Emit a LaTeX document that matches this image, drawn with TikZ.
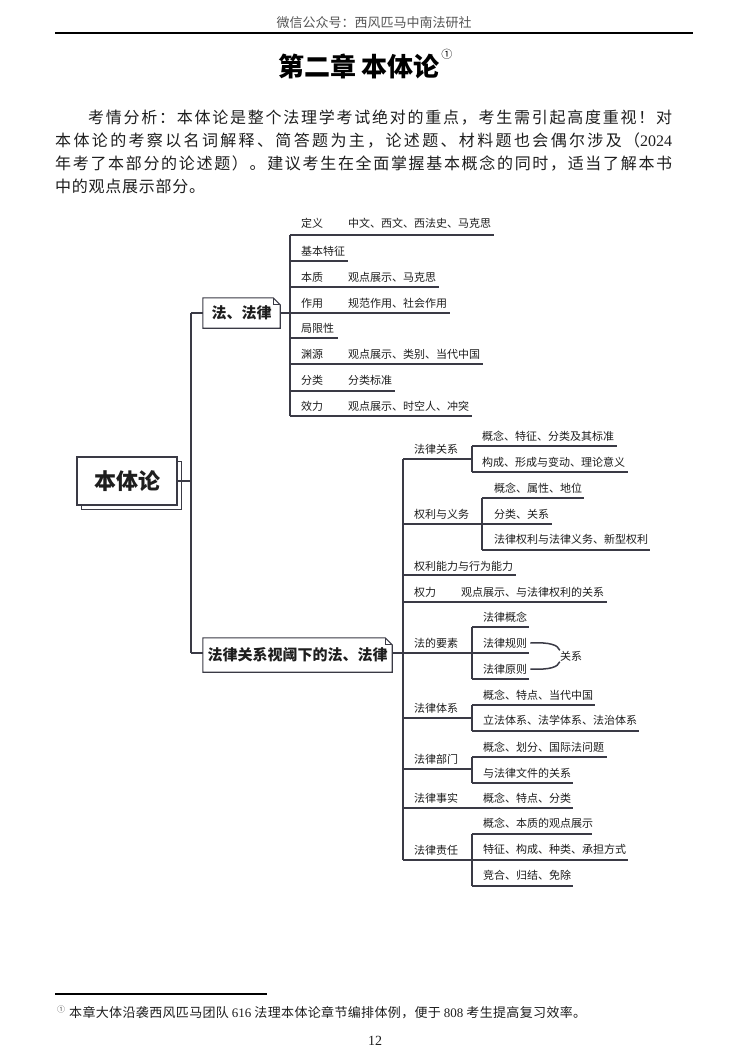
\documentclass[tikz,border=0pt]{standalone}
\usepackage{fontspec}
\setmainfont{Noto Sans CJK SC}
\newfontfamily\lat{Liberation Serif}
\usetikzlibrary{shadows}
% own inter-character class for CJK ideographs and full-width punctuation
\count255="4E00
\loop \XeTeXcharclass\count255=7 \advance\count255 by 1 \ifnum\count255<"A000 \repeat
\count255="3000
\loop \XeTeXcharclass\count255=7 \advance\count255 by 1 \ifnum\count255<"3040 \repeat
\count255="FF00
\loop \XeTeXcharclass\count255=7 \advance\count255 by 1 \ifnum\count255<"FF60 \repeat
\XeTeXinterchartokenstate=1
\XeTeXinterchartoks 7 7 {\hskip 0pt plus 1pt\relax}
\XeTeXinterchartoks 7 0 {\hskip 0pt plus 1pt\relax}
\XeTeXinterchartoks 0 7 {\hskip 0pt plus 1pt\relax}
\definecolor{linec}{HTML}{3A3A45}
\definecolor{txtc}{HTML}{1E1E1E}
\definecolor{headc}{HTML}{555555}
\newcommand\hl[4]{\coordinate (#1s) at (#2,#4); \coordinate (#1e) at (#3,#4); \draw[ln] (#1s) -- (#1e);}
\newcommand\vl[4]{\coordinate (#1s) at (#2,#3); \coordinate (#1e) at (#2,#4); \draw[ln] (#1s) -- (#1e);}
\newcommand\dogear[1]{%
  \draw[ln] (#1.north west) -- ([xshift=-7pt]#1.north east) -- ([yshift=-7pt]#1.north east) -- (#1.south east) -- (#1.south west) -- cycle;
  \draw[ln, line width=0.8pt] ([xshift=-7pt]#1.north east) -- ([xshift=-7pt,yshift=-7pt]#1.north east) -- ([yshift=-7pt]#1.north east);}
\begin{document}
\begin{tikzpicture}[x=1pt, y=-1pt,
  ln/.style={draw=linec, line width=1.1pt},
  lbl/.style={anchor=west, inner sep=0pt, font=\fontsize{11}{13}\selectfont, text=txtc, text height=9.5pt, text depth=1.5pt},
  para/.style={anchor=west, inner sep=0pt, font=\fontsize{16}{18}\selectfont, text=txtc, text height=13.6pt, text depth=2.4pt},
  bignode/.style={inner sep=0pt, font=\fontsize{15}{17}\selectfont\bfseries, text=txtc, text height=13pt, text depth=2pt}
]
\useasboundingbox (0,0) rectangle (748,1059);
\fill[white] (0,0) rectangle (748,1059);

% header
\node[inner sep=0pt, font=\fontsize{13}{15}\selectfont, text=headc] (head) at (374,23) {微信公众号：西风匹马中南法研社};
\coordinate (rl) at (55,33); \coordinate (rr) at (693,33);
\draw[line width=2pt, black] (rl) -- (rr);

% title
\node[inner sep=0pt, font=\fontsize{26}{28}\selectfont\bfseries, text=black] (title) at (359,66) {第二章 本体论};
\node[inner sep=0pt, font=\fontsize{11}{12}\selectfont, text=black, anchor=west] (tsup) at ([xshift=1pt]title.east |- 0,54) {①};

% paragraph
\node[para] (p1) at (88,118) {\makebox[584pt][s]{考情分析：本体论是整个法理学考试绝对的重点，考生需引起高度重视！对}};
\node[para] (p2) at (55,141) {\makebox[617pt][s]{本体论的考察以名词解释、简答题为主，论述题、材料题也会偶尔涉及（{\lat 2024}}};
\node[para] (p3) at (55,164) {\makebox[617pt][s]{年考了本部分的论述题）。建议考生在全面掌握基本概念的同时，适当了解本书}};
\node[para] (p4) at (55,187) {\makebox[150pt][s]{中的观点展示部分。}};

% root
\node[draw=linec, line width=1.1pt, fill=white, minimum width=100pt, minimum height=48pt, inner sep=0pt,
      copy shadow={shadow xshift=4.5pt, shadow yshift=-4.5pt, draw=linec, fill=white, line width=1.1pt},
      font=\fontsize{22}{24}\selectfont\bfseries, text=txtc] (root) at (127,481) {本体论};

% level-1 nodes
\node[bignode, minimum width=77pt, minimum height=30pt] (n1) at (241.5,313) {法、法律};
\dogear{n1}
\node[bignode, minimum width=189pt, minimum height=34pt] (n2) at (297.5,655) {法律关系视阈下的法、法律};
\dogear{n2}

% trunk
\coordinate (ttop) at (191,313);
\coordinate (tbot) at (191,653);
\coordinate (troot) at (191,481);
\draw[ln] (ttop) -- (tbot);
\draw[ln] (root.east) -- (troot);
\draw[ln] (ttop) -- (n1.west |- ttop);
\draw[ln] (tbot) -- (n2.west |- tbot);

% branch 1
\vl{va}{290}{235}{416}
\draw[ln] (n1.east) -- (n1.east -| vas);
\node[lbl] (a1) at (301,224) {定义};
\node[lbl] (a1b) at (348,224) {中文、西文、西法史、马克思};
\hl{ha1}{290}{494}{235}
\node[lbl] (a2) at (301,251) {基本特征};
\hl{ha2}{290}{348}{261}
\node[lbl] (a3) at (301,277) {本质};
\node[lbl] (a3b) at (348,277) {观点展示、马克思};
\hl{ha3}{290}{439}{287}
\node[lbl] (a4) at (301,303) {作用};
\node[lbl] (a4b) at (348,303) {规范作用、社会作用};
\hl{ha4}{290}{450}{313}
\node[lbl] (a5) at (301,328) {局限性};
\hl{ha5}{290}{338}{338}
\node[lbl] (a6) at (301,354) {渊源};
\node[lbl] (a6b) at (348,354) {观点展示、类别、当代中国};
\hl{ha6}{290}{483}{364}
\node[lbl] (a7) at (301,380) {分类};
\node[lbl] (a7b) at (348,380) {分类标准};
\hl{ha7}{290}{395}{391}
\node[lbl] (a8) at (301,406) {效力};
\node[lbl] (a8b) at (348,406) {观点展示、时空人、冲突};
\hl{ha8}{290}{472}{416}

% branch 2
\vl{vb}{403}{459}{860}
\draw[ln] (n2.east |- tbot) -- (vbs |- tbot);

% A
\node[lbl] (b1) at (414,449) {法律关系};
\hl{hb1}{403}{472}{459}
\vl{vb1}{472}{446}{472}
\node[lbl] (b1a) at (482,436) {概念、特征、分类及其标准};
\hl{hb1a}{472}{617}{446}
\node[lbl] (b1b) at (482,462) {构成、形成与变动、理论意义};
\hl{hb1b}{472}{628}{472}
% B
\node[lbl] (b2) at (414,514) {权利与义务};
\hl{hb2}{403}{552}{524}
\vl{vb2}{482}{498}{550}
\node[lbl] (b2a) at (494,488) {概念、属性、地位};
\hl{hb2a}{482}{584}{498}
\node[lbl] (b2b) at (494,514) {分类、关系};
\node[lbl] (b2c) at (494,539) {法律权利与法律义务、新型权利};
\hl{hb2c}{482}{650}{550}
% C
\node[lbl] (b3) at (414,566) {权利能力与行为能力};
\hl{hb3}{403}{516}{575}
% D
\node[lbl] (b4) at (414,592) {权力};
\node[lbl] (b4b) at (461,592) {观点展示、与法律权利的关系};
\hl{hb4}{403}{607}{602}
% E
\node[lbl] (b5) at (414,643) {法的要素};
\hl{hb5}{403}{472}{653}
\vl{vb5}{472}{627}{679}
\node[lbl] (b5a) at (483,617) {法律概念};
\hl{hb5a}{472}{529}{627}
\node[lbl] (b5b) at (483,643) {法律规则};
\hl{hb5b}{472}{529}{653}
\node[lbl] (b5c) at (483,669) {法律原则};
\hl{hb5c}{472}{529}{679}
\node[lbl, anchor=center] (rel) at (571,656) {关系};
\draw[draw=linec, line width=1.5pt] (b5b.east) ++(3,0) .. controls (550,642) and (558,645) .. (rel.north west);
\draw[draw=linec, line width=1.5pt] (b5c.east) ++(3,0) .. controls (550,670) and (558,667) .. (rel.south west);
% F
\node[lbl] (b6) at (414,708) {法律体系};
\hl{hb6}{403}{472}{718}
\vl{vb6}{472}{705}{731}
\node[lbl] (b6a) at (483,695) {概念、特点、当代中国};
\hl{hb6a}{472}{595}{705}
\node[lbl] (b6b) at (483,720) {立法体系、法学体系、法治体系};
\hl{hb6b}{472}{639}{731}
% G
\node[lbl] (b7) at (414,759) {法律部门};
\hl{hb7}{403}{472}{769}
\vl{vb7}{472}{757}{783}
\node[lbl] (b7a) at (483,747) {概念、划分、国际法问题};
\hl{hb7a}{472}{607}{757}
\node[lbl] (b7b) at (483,773) {与法律文件的关系};
\hl{hb7b}{472}{573}{783}
% H
\node[lbl] (b8) at (414,798) {法律事实};
\node[lbl] (b8b) at (483,798) {概念、特点、分类};
\hl{hb8}{403}{573}{808}
% I
\node[lbl] (b9) at (414,850) {法律责任};
\hl{hb9}{403}{472}{860}
\vl{vb9}{472}{834}{886}
\node[lbl] (b9a) at (483,823) {概念、本质的观点展示};
\hl{hb9a}{472}{592}{834}
\node[lbl] (b9b) at (483,849) {特征、构成、种类、承担方式};
\hl{hb9b}{472}{628}{860}
\node[lbl] (b9c) at (483,875) {竞合、归结、免除};
\hl{hb9c}{472}{573}{886}

% footnote
\coordinate (fl) at (55,994); \coordinate (fr) at (267,994);
\draw[line width=1.2pt, black] (fl) -- (fr);
\node[inner sep=0pt, font=\fontsize{8}{9}\selectfont, text=headc] (fmark) at (61,1009) {①};
\node[anchor=west, inner sep=0pt, font=\fontsize{13}{15}\selectfont, text=txtc, text height=11pt, text depth=2pt] (fnote) at (69,1013)
  {\makebox[517pt][s]{本章大体沿袭西风匹马团队\hspace{3pt}{\lat 616}\hspace{3pt}法理本体论章节编排体例，便于\hspace{3pt}{\lat 808}\hspace{3pt}考生提高复习效率。}};
\node[inner sep=0pt, font=\lat\fontsize{14}{16}\selectfont, text=txtc] (pnum) at (375,1041) {12};
\end{tikzpicture}
\end{document}
